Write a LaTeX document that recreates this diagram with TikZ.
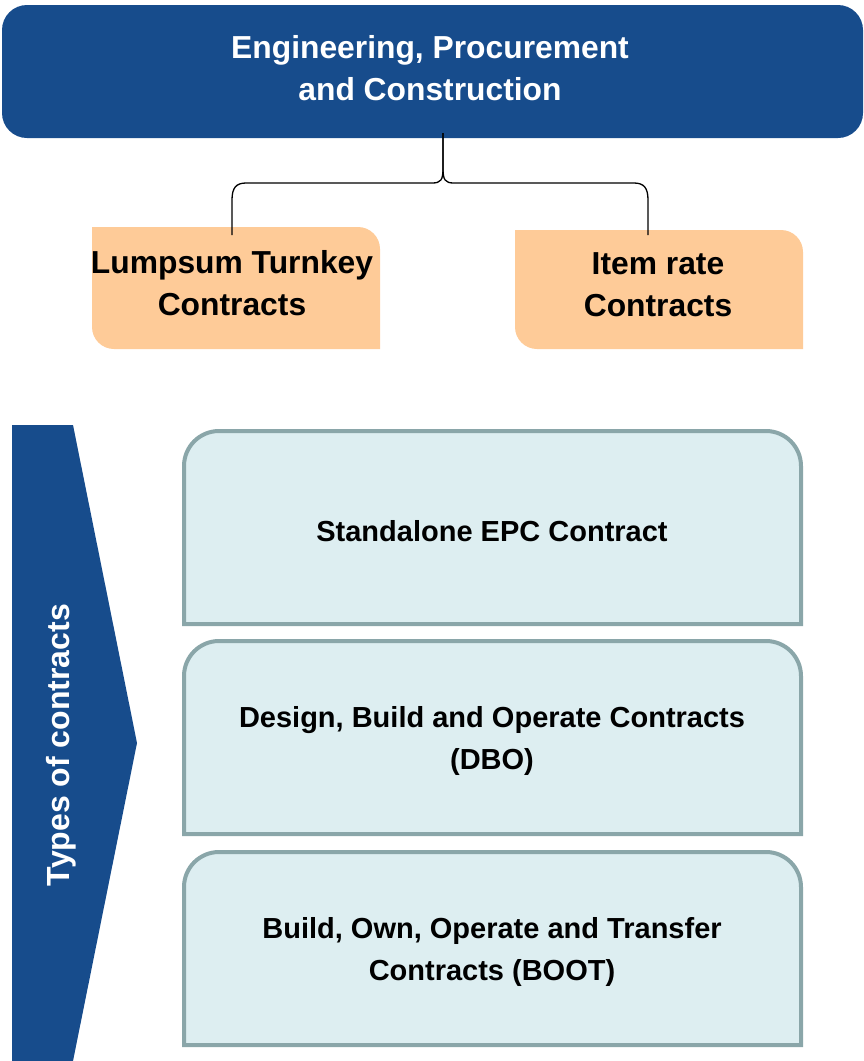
\documentclass[tikz,border=0pt]{standalone}
\usepackage{fontspec}
\setmainfont{Liberation Sans}

\definecolor{epcblue}{HTML}{174C8C}
\definecolor{lumporange}{HTML}{FECB98}
\definecolor{typefill}{HTML}{DDEEF1}
\definecolor{typeline}{HTML}{8AA6A9}

\tikzset{
    headtext/.style={font=\bfseries\fontsize{31.8}{42}\selectfont, align=center},
    typetext/.style={font=\bfseries\fontsize{29}{42}\selectfont, align=center},
    typebox/.style={fill=typefill, draw=typeline, line width=4pt},
    bracket/.style={draw=black, line width=1.3pt},
}

\begin{document}
\begin{tikzpicture}[x=1pt, y=-1pt]
    \useasboundingbox (0,0) rectangle (863,1061);

    % top box
    \fill[epcblue, rounded corners=25pt] (2,5) rectangle (863,138);
    \node[headtext, text=white] (epc) at (430,68) {Engineering, Procurement\\and Construction};

    % the two contract forms
    \fill[lumporange] (92,227) [rounded corners=22pt] -- (380,227) [sharp corners] -- (380,349)
        [rounded corners=22pt] -- (92,349) [sharp corners] -- cycle;
    \fill[lumporange] (515,230) [rounded corners=22pt] -- (803,230) [sharp corners] -- (803,349)
        [rounded corners=22pt] -- (515,349) [sharp corners] -- cycle;
    \node[headtext] (lts) at (232,283) {Lumpsum Turnkey\\Contracts};
    \node[headtext] (itr) at (658,285) {Item rate\\Contracts};

    \coordinate (stem) at (443,133);
    \coordinate (ltsTop) at (232,235);
    \coordinate (itrTop) at (648,235);
    \draw[bracket] (stem) -- (443,168) .. controls (443,180) and (441,183) .. (432,183) -- (246,183)
        .. controls (236,183) and (232,188) .. (232,200) -- (ltsTop);
    \draw[bracket] (stem) -- (443,168) .. controls (443,180) and (445,183) .. (454,183) -- (634,183)
        .. controls (644,183) and (648,188) .. (648,200) -- (itrTop);

    % chevron
    \fill[epcblue] (12,425) -- (73,425) -- (137,743) -- (73,1061) -- (12,1061) -- cycle;
    \node[rotate=90, text=white, font=\bfseries\fontsize{32}{36}\selectfont] (types) at (61,745) {Types of contracts};

    % types of contracts
    \foreach[count=\i] \top/\txt in {431/{Standalone EPC Contract},
            641/{Design, Build and Operate Contracts\\(DBO)},
            852/{Build, Own, Operate and Transfer\\Contracts (BOOT)}} {
        \draw[typebox] (184,\top+193) [rounded corners=35pt] -- (184,\top) -- (801,\top)
            [sharp corners] -- (801,\top+193) -- cycle;
        \node[typetext] (type\i) at (492,\top+100) {\txt};
    }
\end{tikzpicture}
\end{document}
